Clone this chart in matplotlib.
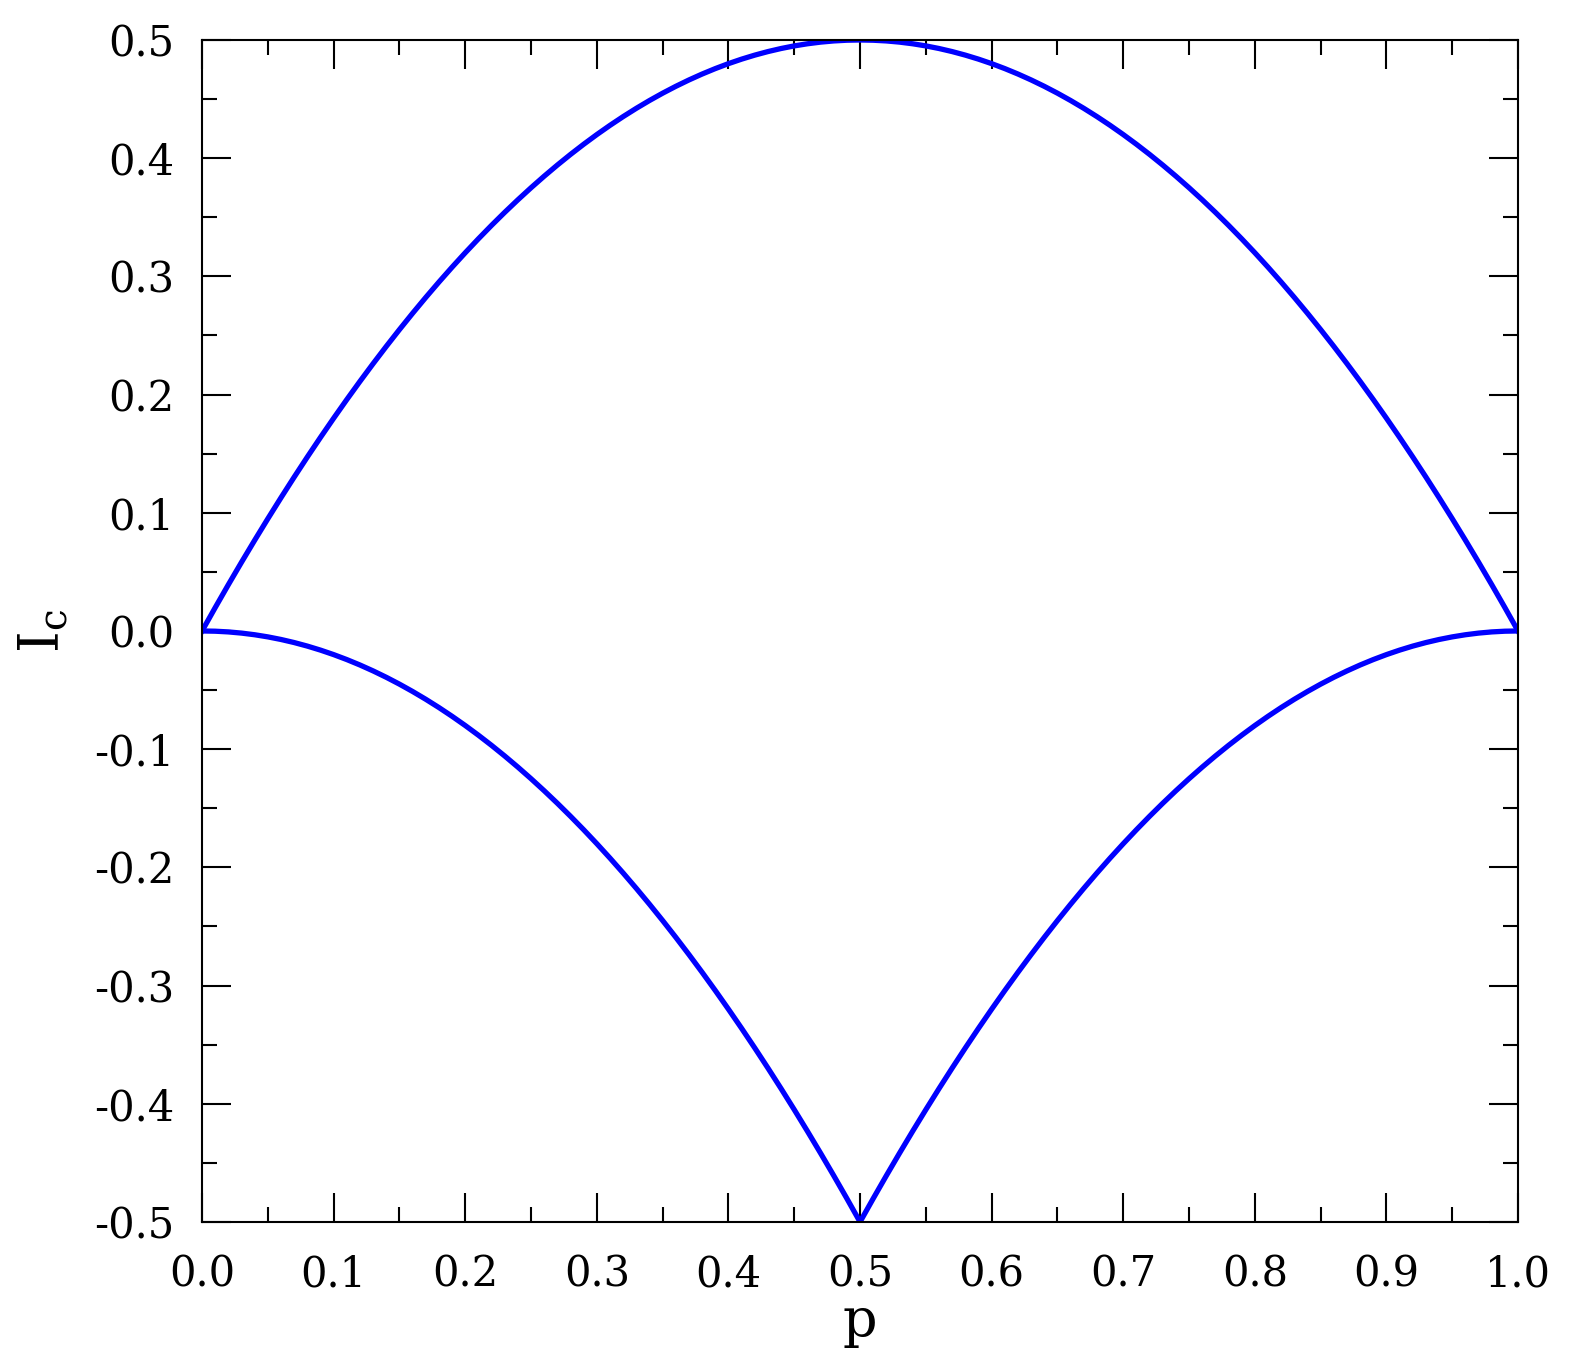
import matplotlib
matplotlib.use("Agg")
import matplotlib.pyplot as plt
from matplotlib.ticker import MultipleLocator, FormatStrFormatter

# values at steps of 0.01 in p
p = [0.00, 0.01, 0.02, 0.03, 0.04, 0.05, 0.06, 0.07, 0.08, 0.09,
     0.10, 0.11, 0.12, 0.13, 0.14, 0.15, 0.16, 0.17, 0.18, 0.19,
     0.20, 0.21, 0.22, 0.23, 0.24, 0.25, 0.26, 0.27, 0.28, 0.29,
     0.30, 0.31, 0.32, 0.33, 0.34, 0.35, 0.36, 0.37, 0.38, 0.39,
     0.40, 0.41, 0.42, 0.43, 0.44, 0.45, 0.46, 0.47, 0.48, 0.49,
     0.50, 0.51, 0.52, 0.53, 0.54, 0.55, 0.56, 0.57, 0.58, 0.59,
     0.60, 0.61, 0.62, 0.63, 0.64, 0.65, 0.66, 0.67, 0.68, 0.69,
     0.70, 0.71, 0.72, 0.73, 0.74, 0.75, 0.76, 0.77, 0.78, 0.79,
     0.80, 0.81, 0.82, 0.83, 0.84, 0.85, 0.86, 0.87, 0.88, 0.89,
     0.90, 0.91, 0.92, 0.93, 0.94, 0.95, 0.96, 0.97, 0.98, 0.99,
     1.00]
ic_upper = [0.0000, 0.0198, 0.0392, 0.0582, 0.0768, 0.0950, 0.1128, 0.1302, 0.1472, 0.1638,
            0.1800, 0.1958, 0.2112, 0.2262, 0.2408, 0.2550, 0.2688, 0.2822, 0.2952, 0.3078,
            0.3200, 0.3318, 0.3432, 0.3542, 0.3648, 0.3750, 0.3848, 0.3942, 0.4032, 0.4118,
            0.4200, 0.4278, 0.4352, 0.4422, 0.4488, 0.4550, 0.4608, 0.4662, 0.4712, 0.4758,
            0.4800, 0.4838, 0.4872, 0.4902, 0.4928, 0.4950, 0.4968, 0.4982, 0.4992, 0.4998,
            0.5000, 0.4998, 0.4992, 0.4982, 0.4968, 0.4950, 0.4928, 0.4902, 0.4872, 0.4838,
            0.4800, 0.4758, 0.4712, 0.4662, 0.4608, 0.4550, 0.4488, 0.4422, 0.4352, 0.4278,
            0.4200, 0.4118, 0.4032, 0.3942, 0.3848, 0.3750, 0.3648, 0.3542, 0.3432, 0.3318,
            0.3200, 0.3078, 0.2952, 0.2822, 0.2688, 0.2550, 0.2408, 0.2262, 0.2112, 0.1958,
            0.1800, 0.1638, 0.1472, 0.1302, 0.1128, 0.0950, 0.0768, 0.0582, 0.0392, 0.0198,
            0.0000]
ic_lower = [0.0000, -0.0002, -0.0008, -0.0018, -0.0032, -0.0050, -0.0072, -0.0098, -0.0128, -0.0162,
            -0.0200, -0.0242, -0.0288, -0.0338, -0.0392, -0.0450, -0.0512, -0.0578, -0.0648, -0.0722,
            -0.0800, -0.0882, -0.0968, -0.1058, -0.1152, -0.1250, -0.1352, -0.1458, -0.1568, -0.1682,
            -0.1800, -0.1922, -0.2048, -0.2178, -0.2312, -0.2450, -0.2592, -0.2738, -0.2888, -0.3042,
            -0.3200, -0.3362, -0.3528, -0.3698, -0.3872, -0.4050, -0.4232, -0.4418, -0.4608, -0.4802,
            -0.5000, -0.4802, -0.4608, -0.4418, -0.4232, -0.4050, -0.3872, -0.3698, -0.3528, -0.3362,
            -0.3200, -0.3042, -0.2888, -0.2738, -0.2592, -0.2450, -0.2312, -0.2178, -0.2048, -0.1922,
            -0.1800, -0.1682, -0.1568, -0.1458, -0.1352, -0.1250, -0.1152, -0.1058, -0.0968, -0.0882,
            -0.0800, -0.0722, -0.0648, -0.0578, -0.0512, -0.0450, -0.0392, -0.0338, -0.0288, -0.0242,
            -0.0200, -0.0162, -0.0128, -0.0098, -0.0072, -0.0050, -0.0032, -0.0018, -0.0008, -0.0002,
            0.0000]

plt.rcParams["font.family"] = ["DejaVu Serif"]
plt.rcParams["mathtext.fontset"] = "dejavuserif"
plt.rcParams["axes.unicode_minus"] = False

fig = plt.figure(figsize=(15.7, 13.65), dpi=100)
ax = fig.add_axes([0.1287, 0.1048, 0.8382, 0.8659])

ax.plot(p, ic_upper, color="#0000ff", lw=3.8, solid_joinstyle="miter")
ax.plot(p, ic_lower, color="#0000ff", lw=3.8, solid_joinstyle="miter")

ax.set_xlim(0, 1)
ax.set_ylim(-0.5, 0.5)
ax.xaxis.set_major_locator(MultipleLocator(0.1))
ax.xaxis.set_minor_locator(MultipleLocator(0.05))
ax.yaxis.set_major_locator(MultipleLocator(0.1))
ax.yaxis.set_minor_locator(MultipleLocator(0.05))
ax.xaxis.set_major_formatter(FormatStrFormatter("%.1f"))
ax.yaxis.set_major_formatter(FormatStrFormatter("%.1f"))

for s in ax.spines.values():
    s.set_linewidth(1.5)
ax.tick_params(which="both", direction="in", top=True, right=True, width=1.5)
ax.tick_params(which="major", length=21, labelsize=30)
ax.tick_params(which="minor", length=11)
ax.tick_params(axis="x", which="major", pad=23)
ax.tick_params(axis="y", which="major", pad=20)

ax.set_xlabel("p", fontsize=39, labelpad=0)
ax.set_ylabel(r"$\mathregular{I_c}$", fontsize=40, labelpad=16)

fig.savefig("out.png", dpi=100)
